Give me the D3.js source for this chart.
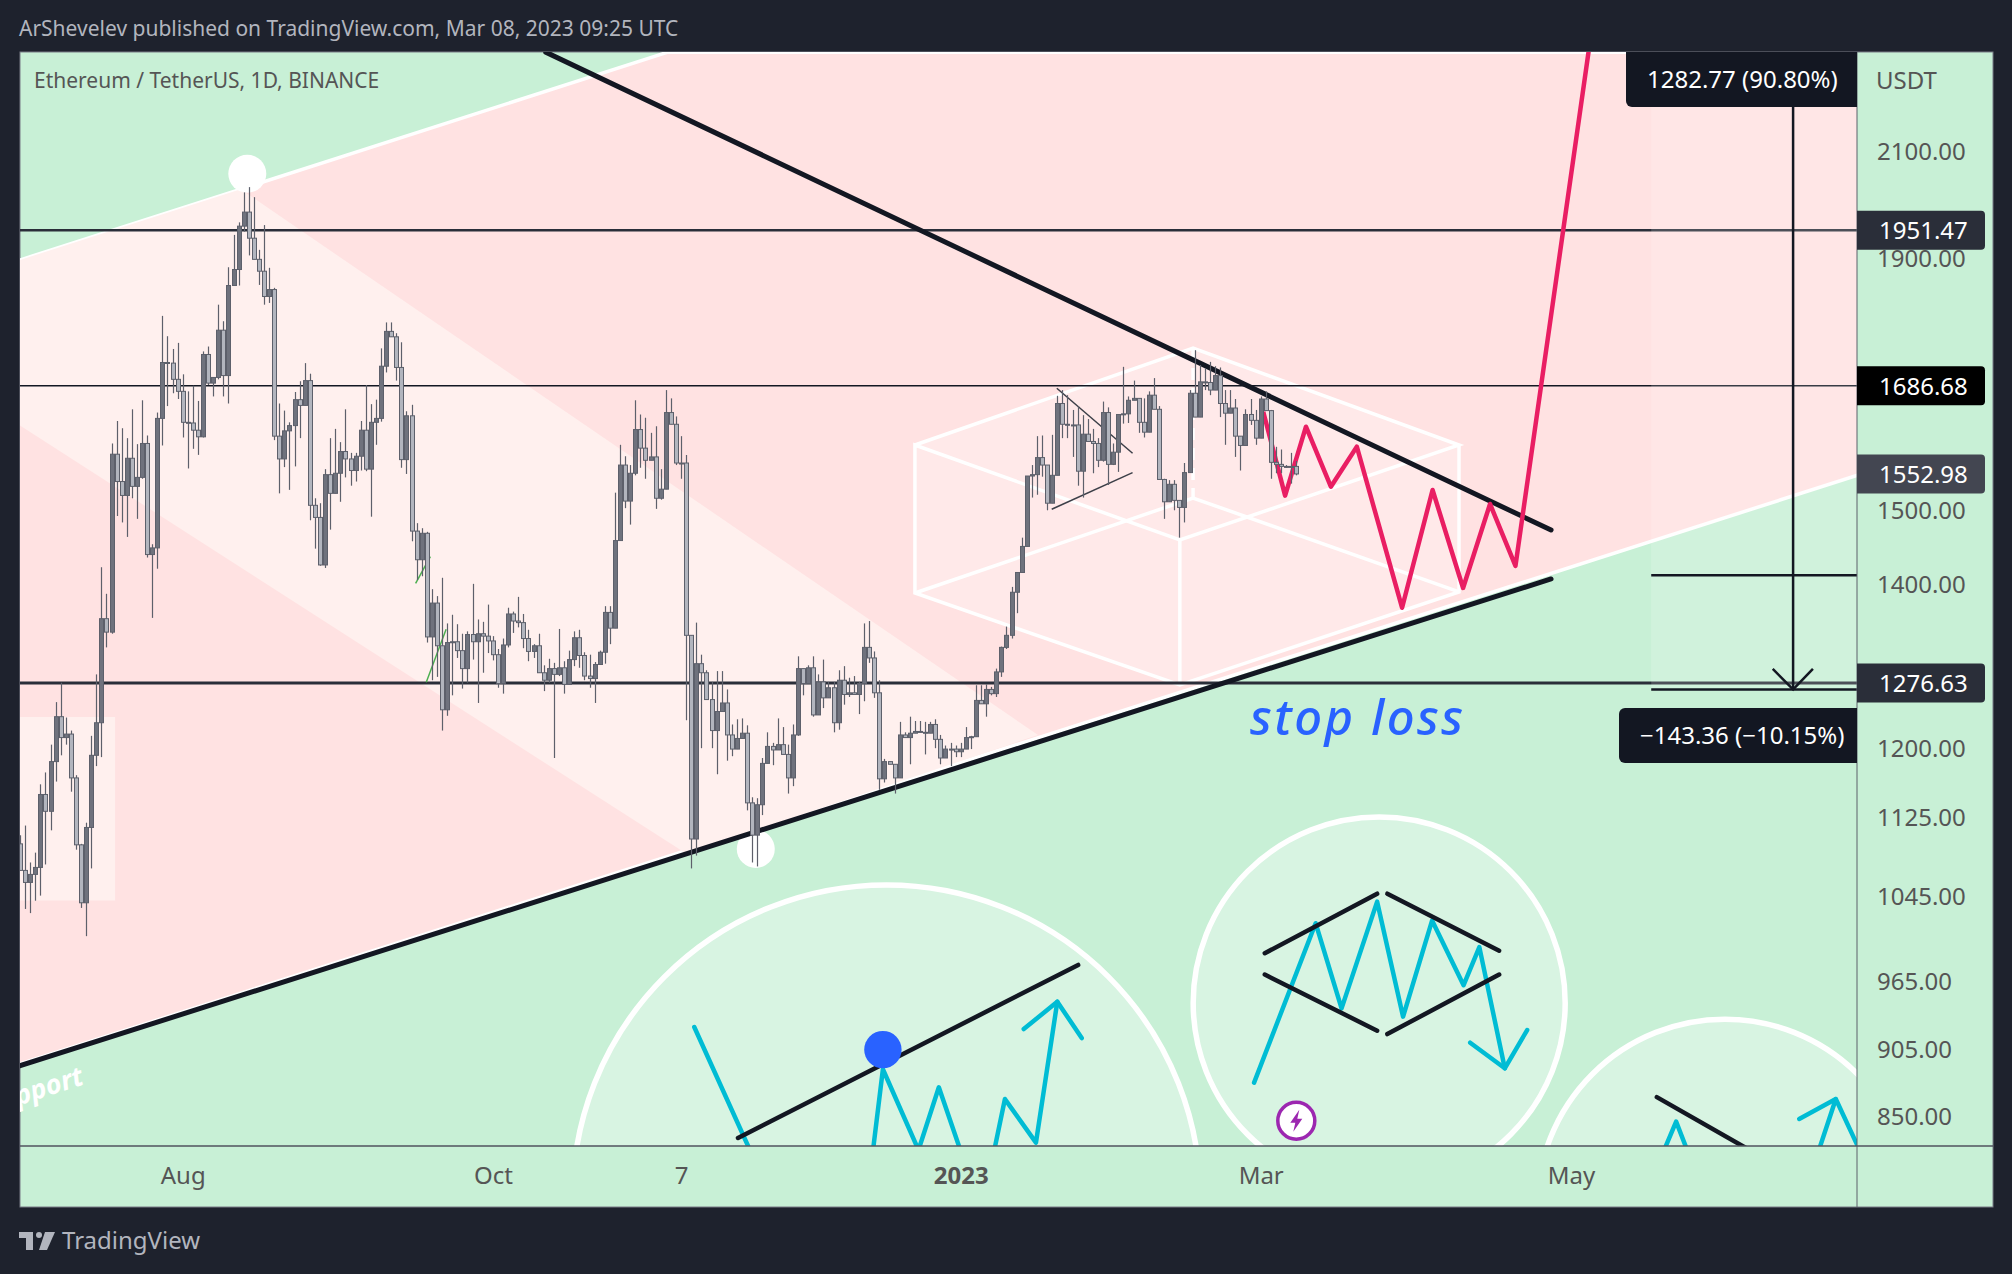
<!DOCTYPE html>
<meta charset="utf-8">
<head>
<title>ETHUSDT</title>
<script src="https://d3js.org/d3.v7.min.js"></script>
<style>
  html, body { margin: 0; padding: 0; background: #1e222d; }
  text { font-family: "Noto Sans", sans-serif; }
</style>
</head>
<body>
<div id="home"></div>
<script>
// daily candles, 30 Jun 2022 to 8 Mar 2023
const firstOpen = 1098;
const closes = [
  1071,1059,1067,1074,1150,1132,1186,1237,1213,1217,
  1168,1097,1039,1115,1193,1230,1356,1339,1582,1542,
  1522,1576,1535,1548,1598,1440,1449,1636,1724,1723,
  1697,1678,1630,1629,1618,1608,1737,1691,1700,1777,
  1703,1853,1881,1959,1985,1937,1899,1878,1834,1846,
  1609,1575,1617,1625,1665,1656,1695,1508,1491,1426,
  1552,1525,1554,1586,1575,1558,1579,1618,1560,1630,
  1636,1718,1775,1766,1716,1574,1640,1472,1433,1469,
  1333,1376,1322,1245,1326,1327,1316,1294,1336,1327,
  1337,1334,1328,1311,1276,1323,1362,1353,1351,1331,
  1315,1322,1289,1280,1294,1287,1295,1275,1305,1332,
  1310,1285,1282,1299,1314,1364,1344,1459,1566,1514,
  1554,1619,1591,1573,1578,1518,1531,1645,1627,1569,
  1569,1335,1103,1300,1289,1257,1221,1243,1253,1216,
  1200,1212,1218,1141,1107,1139,1184,1203,1199,1205,
  1194,1168,1216,1294,1276,1295,1239,1278,1259,1271,
  1230,1280,1263,1265,1263,1276,1320,1307,1265,1167,
  1186,1183,1168,1216,1213,1218,1220,1219,1218,1228,
  1211,1190,1200,1200,1197,1200,1213,1214,1256,1252,
  1269,1264,1290,1320,1335,1390,1416,1451,1550,1552,
  1577,1566,1511,1551,1659,1627,1626,1626,1557,1612,
  1601,1598,1573,1645,1567,1585,1642,1643,1664,1667,
  1630,1615,1672,1650,1545,1513,1538,1515,1505,1555,
  1675,1638,1693,1692,1680,1703,1659,1644,1652,1609,
  1595,1642,1633,1606,1666,1648,1570,1567,1564,1564,
  1564,1553
];
const highs = [
  1107,1117,1079,1089,1161,1174,1205,1254,1277,1236,
  1221,1171,1098,1120,1215,1287,1423,1388,1598,1632,
  1621,1606,1650,1597,1664,1610,1454,1645,1801,1767,
  1746,1756,1705,1678,1687,1663,1742,1750,1700,1820,
  1792,1885,1943,1966,2022,2032,2013,1916,1961,1884,
  1849,1659,1648,1630,1677,1694,1723,1706,1518,1511,
  1560,1606,1620,1600,1650,1584,1584,1632,1688,1658,
  1665,1747,1790,1790,1772,1757,1647,1657,1483,1476,
  1471,1394,1385,1409,1350,1361,1349,1337,1340,1401,
  1355,1352,1374,1334,1318,1331,1370,1365,1384,1362,
  1342,1324,1337,1298,1306,1301,1343,1303,1316,1340,
  1342,1314,1311,1302,1316,1372,1372,1526,1596,1579,
  1566,1664,1642,1637,1614,1624,1560,1680,1667,1639,
  1609,1581,1335,1351,1311,1292,1278,1291,1291,1269,
  1228,1234,1235,1227,1147,1146,1190,1219,1207,1235,
  1225,1205,1228,1309,1294,1298,1309,1287,1305,1278,
  1278,1292,1297,1283,1285,1278,1350,1353,1315,1280,
  1189,1186,1183,1231,1219,1237,1232,1232,1231,1231,
  1234,1216,1204,1207,1204,1207,1225,1215,1274,1274,
  1275,1272,1294,1321,1346,1397,1416,1463,1550,1566,
  1609,1610,1566,1611,1671,1680,1672,1649,1655,1641,
  1635,1620,1606,1662,1653,1598,1642,1717,1670,1695,
  1667,1667,1678,1699,1655,1546,1544,1544,1515,1569,
  1680,1744,1720,1715,1725,1718,1716,1680,1680,1666,
  1609,1650,1666,1649,1670,1678,1649,1593,1589,1566,
  1584,1572
];
const lows = [
  1071,1033,1029,1041,1046,1077,1112,1164,1193,1205,
  1153,1092,1034,1007,1073,1181,1191,1320,1337,1493,
  1484,1464,1518,1489,1546,1436,1357,1421,1595,1655,
  1675,1666,1607,1561,1590,1581,1607,1688,1670,1697,
  1670,1659,1853,1853,1949,1906,1899,1854,1820,1823,
  1603,1525,1563,1530,1564,1606,1656,1487,1448,1425,
  1422,1474,1525,1513,1548,1536,1542,1558,1557,1492,
  1596,1631,1708,1766,1695,1562,1553,1458,1406,1411,
  1326,1280,1284,1221,1238,1262,1307,1270,1277,1305,
  1253,1289,1313,1304,1271,1264,1320,1338,1345,1319,
  1303,1307,1289,1267,1277,1190,1285,1264,1275,1297,
  1295,1280,1271,1253,1299,1300,1324,1344,1459,1504,
  1481,1551,1562,1546,1573,1503,1516,1531,1627,1566,
  1546,1233,1073,1086,1201,1257,1201,1172,1243,1187,
  1192,1200,1212,1133,1079,1075,1128,1184,1182,1199,
  1194,1151,1159,1215,1262,1276,1237,1239,1247,1259,
  1219,1222,1251,1260,1263,1240,1255,1301,1259,1155,
  1163,1183,1151,1168,1213,1183,1218,1219,1194,1218,
  1201,1183,1190,1181,1191,1191,1200,1200,1214,1252,
  1237,1262,1260,1284,1318,1331,1363,1416,1451,1519,
  1523,1549,1501,1511,1551,1606,1606,1578,1536,1519,
  1601,1554,1563,1571,1537,1566,1556,1628,1629,1664,
  1614,1607,1615,1650,1545,1489,1513,1501,1463,1484,
  1555,1638,1638,1680,1672,1680,1638,1596,1644,1578,
  1558,1595,1626,1596,1606,1648,1546,1554,1554,1562,
  1539,1551
];
const priceTicks = [2100,1900,1500,1400,1200,1125,1045,965,905,850];
const timeTickDates = [Date.UTC(2022,7,1),Date.UTC(2022,9,1),Date.UTC(2022,10,7),Date.UTC(2023,0,1),Date.UTC(2023,2,1),Date.UTC(2023,4,1)];
const timeTickLabels = ["Aug","Oct","7","2023","Mar","May"];
const levels = [1951.47,1686.68,1276.63];
const lastPrice = 1552.98;

// drawings, as [bar number, price]
const pinkZone = [[-1,1895],[127.4,2306],[363,2306],[363,1555],[-1,892]];
const lightBand = [[-1,1895],[43.4,2028],[200.2,1216],[131,1088],[-1,1630]];
const lightBox = [[-1,1236.7],[18.7,1236.7],[18.7,1041.3],[-1,1041.3]];
const boxOutline = [[176,1595.7],[230.7,1747.6],[283,1595.7],[283,1390.4],[228.1,1274.3],[176,1389]];
const boxLines = [
  [[176,1595.7],[230.7,1747.6],[283,1595.7],[228.1,1459.8],[176,1595.7],[176,1389],[228.1,1274.3],[283,1390.4],[283,1595.7]],
  [[228.1,1459.8],[228.1,1274.3]],
  [[176,1389],[230.7,1518.4],[283,1390.4]]
];
const boxDashed = [[230.7,1747.6],[230.7,1518.4]];
const thinGrey = [[[203.9,1682.8],[218.8,1583.4]],[[202.9,1502.4],[218.8,1554.9]]];
const thinGreen = [[[77.8,1401.7],[80.7,1437.2]],[[79.9,1277.6],[83.8,1342.6]]];
const blackLines = [
  [[103.4,2306],[301.1,1473.5]],
  [[-0.1,891.7],[301.1,1407.4]],
  [[141.2,833.5],[208.1,980.2]],
  [[244.8,991],[266.9,1047.9]],
  [[268.9,1047.9],[290.9,993.4]],
  [[244.8,971.4],[266.9,921.6]],
  [[268.9,918.7],[290.9,971.4]],
  [[321.9,866],[342.2,819.5]]
];
const redPath = [[244.5,1646.3],[248.8,1521.7],[252.9,1623.3],[257.8,1534.6],[262.9,1593.2],[271.8,1370],[277.8,1529.8],[283.8,1395.6],[289.1,1509.9],[294.1,1424.7],[308.5,2308.5]];
const cyanLines = [
  [[132.6,924.8],[147.1,793.8],[166.8,793.8],[169.7,888.9],[176.7,824.1],[180.7,874],[185.6,816.4],[191.2,816.4],[193.7,864.4],[199.8,829.8],[204,947]],
  [[197.4,923],[204,947],[208.8,915.3]],
  [[242.7,877.8],[254.8,1019.3],[259.9,941.1],[266.9,1040.1],[272,933.8],[277.7,1021.8],[283.9,961.8],[287,996.7],[292,889.7]],
  [[285.2,911.3],[292,889.7],[296.4,922.2]],
  [[322.1,812.6],[325.7,846.3],[329,812.6]],
  [[352.8,812.6],[357.1,864.4],[363.8,807.3]],
  [[349.9,848.4],[357.1,864.4]]
];
const bigCircles = [[170.4,787.2,314],[267.3,945.9,186],[335.3,781.3,187.7]];
const whiteDots = [[44.7,2057.7],[144.7,1092.8]];
const blueDot = [169.7,905.4];
const eventIcon = [251,847];

// measure tool
const measureLeft = 320.8, measureRight = 363, measureMid = 348.7;
const measureEntry = 1412.32, measureStop = 1268.96, measureTarget = 2695.09;
const arrowLegs = [[344.7,1293.6],[348.7,1268.96],[352.6,1293.6]];

const W = 2012, H = 1274;
const plotLeft = 20, plotRight = 1857, plotTop = 52, plotBottom = 1146, axisRight = 1993, axisBottom = 1207;

let svg = d3.select("#home").append("svg").attr("width", W).attr("height", H).style("display", "block");

const DAY = 86400000;
const t0 = Date.UTC(2022,5,30);
let x = d3.scaleUtc().domain([t0, t0 + 251 * DAY]).range([20, 1296.3]);
let y = d3.scaleLog().domain([2100, 850]).range([152, 1117]);
const bx = (i) => x(t0 + i * DAY);
let line = d3.line().x((d) => bx(d[0])).y((d) => y(d[1]));

svg.append("rect").attr("x", plotLeft).attr("y", plotTop).attr("width", axisRight - plotLeft).attr("height", axisBottom - plotTop)
   .attr("fill", "#c8f0d6").attr("stroke", "#787b86").attr("stroke-width", 1);

svg.append("clipPath").attr("id", "plot").append("rect")
   .attr("x", plotLeft).attr("y", plotTop).attr("width", plotRight - plotLeft).attr("height", plotBottom - plotTop);

let plot = svg.append("g").attr("clip-path", "url(#plot)");

plot.append("path").attr("d", line(pinkZone) + "Z").attr("fill", "#ffe2e2").attr("stroke", "#fff").attr("stroke-width", 3.5);
plot.append("path").attr("d", line(lightBand) + "Z").attr("fill", "#fff0ee");
plot.append("path").attr("d", line(lightBox) + "Z").attr("fill", "#fff0ee");
plot.append("path").attr("d", line(boxOutline) + "Z").attr("fill", "rgba(255,255,255,0.25)");

plot.selectAll(".boxline").data(boxLines).enter().append("path")
    .attr("d", (d) => line(d)).attr("fill", "none").attr("stroke", "#fff").attr("stroke-width", 3.5);
plot.append("path").attr("d", line(boxDashed)).attr("fill", "none").attr("stroke", "#fff").attr("stroke-width", 3.5).attr("stroke-dasharray", "12 8");

plot.selectAll(".bigcircle").data(bigCircles).enter().append("circle")
    .attr("cx", (d) => bx(d[0])).attr("cy", (d) => y(d[1])).attr("r", (d) => d[2])
    .attr("fill", "rgba(255,255,255,0.3)").attr("stroke", "#fff").attr("stroke-width", 5.5);

plot.selectAll(".dot").data(whiteDots).enter().append("circle")
    .attr("cx", (d) => bx(d[0])).attr("cy", (d) => y(d[1])).attr("r", 19).attr("fill", "#fff");

plot.selectAll(".level").data(levels).enter().append("line")
    .attr("x1", plotLeft).attr("x2", plotRight).attr("y1", (d) => y(d)).attr("y2", (d) => y(d))
    .attr("stroke", (d) => d == 1686.68 ? "#131722" : "#2a2e39")
    .attr("stroke-width", (d) => d == 1686.68 ? 1.5 : d == 1951.47 ? 2.5 : 3);

plot.selectAll(".thing").data(thinGrey).enter().append("path").attr("d", (d) => line(d))
    .attr("stroke", "#3c3f48").attr("stroke-width", 1.5).attr("fill", "none");
plot.selectAll(".thgreen").data(thinGreen).enter().append("path").attr("d", (d) => line(d))
    .attr("stroke", "#4caf50").attr("stroke-width", 1.5).attr("fill", "none");

plot.selectAll(".cyan").data(cyanLines).enter().append("path").attr("d", (d) => line(d))
    .attr("fill", "none").attr("stroke", "#00bcd4").attr("stroke-width", 4.5).attr("stroke-linejoin", "round").attr("stroke-linecap", "round");
plot.selectAll(".black").data(blackLines).enter().append("path").attr("d", (d) => line(d))
    .attr("fill", "none").attr("stroke", "#131722").attr("stroke-width", (d, i) => i < 2 ? 5 : 4.5).attr("stroke-linecap", "round");
plot.append("path").attr("d", line(redPath)).attr("fill", "none").attr("stroke", "#e91e63").attr("stroke-width", 4.5).attr("stroke-linejoin", "round");

plot.append("circle").attr("cx", bx(blueDot[0])).attr("cy", y(blueDot[1])).attr("r", 18.7).attr("fill", "#2962ff");

// lightning event marker
let icon = plot.append("g").attr("transform", "translate(" + bx(eventIcon[0]) + "," + y(eventIcon[1]) + ")");
icon.append("circle").attr("r", 18.5).attr("fill", "#fff").attr("stroke", "#9c27b0").attr("stroke-width", 3.5);
icon.append("path").attr("d", "M3 -11 L-6 2 L-1 2 L-3 11 L6 -2 L1 -2 Z").attr("fill", "#9c27b0");

// stop loss and the cut off label
plot.append("text").attr("x", 1250).attr("y", 735).attr("font-size", 49).attr("font-style", "italic").attr("font-weight", 500)
    .attr("letter-spacing", 2.5).attr("fill", "#2962ff").text("stop loss");
plot.append("text").attr("transform", "translate(85,1084) rotate(-18)").attr("text-anchor", "end").attr("font-size", 27)
    .attr("font-style", "italic").attr("font-weight", 700).attr("fill", "#fff").text("Support");

// measure tool
plot.append("rect").attr("x", bx(measureLeft)).attr("width", plotRight - bx(measureLeft))
    .attr("y", plotTop).attr("height", y(measureStop) - plotTop).attr("fill", "rgba(255,255,255,0.16)");
plot.selectAll(".mline").data([measureEntry, measureStop]).enter().append("line")
    .attr("x1", bx(measureLeft)).attr("x2", bx(measureRight)).attr("y1", (d) => y(d)).attr("y2", (d) => y(d))
    .attr("stroke", "#131722").attr("stroke-width", 2.5);
plot.append("line").attr("x1", bx(measureMid)).attr("x2", bx(measureMid)).attr("y1", y(measureTarget)).attr("y2", y(measureStop))
    .attr("stroke", "#131722").attr("stroke-width", 2.5);
plot.append("path").attr("d", line(arrowLegs)).attr("fill", "none").attr("stroke", "#131722").attr("stroke-width", 2.5);

// candles
let candles = plot.selectAll(".candle").data(closes).enter().append("g");
const openOf = (i) => i == 0 ? firstOpen : closes[i - 1];
const cx = (i) => Math.round(bx(i)) + 0.5;
candles.append("line")
    .attr("x1", (d, i) => cx(i)).attr("x2", (d, i) => cx(i))
    .attr("y1", (d, i) => y(highs[i])).attr("y2", (d, i) => y(lows[i]))
    .attr("stroke", "#5d606b").attr("stroke-width", 1.2);
candles.append("rect")
    .attr("x", (d, i) => cx(i) - 2).attr("width", 4)
    .attr("y", (d, i) => y(Math.max(d, openOf(i))))
    .attr("height", (d, i) => Math.max(1, Math.abs(y(d) - y(openOf(i)))))
    .attr("fill", (d, i) => d >= openOf(i) ? "#6f727d" : "#b2b5be")
    .attr("stroke", "#5d606b").attr("stroke-width", 1);

// axes
svg.append("line").attr("x1", plotRight).attr("x2", plotRight).attr("y1", plotTop).attr("y2", axisBottom).attr("stroke", "#5d606b");
svg.append("line").attr("x1", plotLeft).attr("x2", axisRight).attr("y1", plotBottom).attr("y2", plotBottom).attr("stroke", "#50535e").attr("stroke-width", 1.5);

let yAxis = svg.append("g").attr("transform", "translate(" + plotRight + ",0)")
    .call(d3.axisRight(y).tickValues(priceTicks).tickFormat((d) => d.toFixed(2)).tickSize(0).tickPadding(20));
yAxis.select(".domain").remove();
yAxis.selectAll("text").attr("font-size", 24).attr("font-family", "Noto Sans").attr("fill", "#555555");

let xAxis = svg.append("g").attr("transform", "translate(0," + plotBottom + ")")
    .call(d3.axisBottom(x).tickValues(timeTickDates).tickFormat((d, i) => timeTickLabels[i]).tickSize(0).tickPadding(21));
xAxis.select(".domain").remove();
xAxis.selectAll("text").attr("font-size", 24).attr("font-family", "Noto Sans").attr("fill", "#555555")
     .attr("font-weight", (d, i) => timeTickLabels[i] == "2023" ? 700 : 400);

svg.append("text").attr("x", 1876).attr("y", 89).attr("font-size", 24).attr("fill", "#555555").text("USDT");

// price tags
const tags = [[1951.47, "#2a2e39"], [1686.68, "#000000"], [lastPrice, "#434651"], [1276.63, "#2a2e39"]];
let tag = svg.selectAll(".tag").data(tags).enter().append("g").attr("transform", (d) => "translate(" + plotRight + "," + y(d[0]) + ")");
tag.append("path").attr("d", "M0 -19.5H124a4 4 0 0 1 4 4V15.5a4 4 0 0 1 -4 4H0Z").attr("fill", (d) => d[1]);
tag.append("text").attr("x", 22).attr("y", 9).attr("font-size", 24).attr("fill", "#fff").text((d) => d[0].toFixed(2));

// measure labels
svg.append("path").attr("d", "M1857 52V107H1632a6 6 0 0 1 -6 -6V52Z").attr("fill", "#131722");
svg.append("text").attr("x", 1647).attr("y", 88).attr("font-size", 24).attr("fill", "#fff").text("1282.77 (90.80%)");
svg.append("path").attr("d", "M1857 708V763H1625a6 6 0 0 1 -6 -6V714a6 6 0 0 1 6 -6Z").attr("fill", "#131722");
svg.append("text").attr("x", 1640).attr("y", 744).attr("font-size", 24).attr("fill", "#fff").text("\u2212143.36 (\u221210.15%)");

// header and footer
svg.append("text").attr("x", 19).attr("y", 36).attr("font-size", 21).attr("fill", "#b2b5be")
   .text("ArShevelev published on TradingView.com, Mar 08, 2023 09:25 UTC");
svg.append("text").attr("x", 34).attr("y", 88).attr("font-size", 21).attr("fill", "#555555")
   .text("Ethereum / TetherUS, 1D, BINANCE");

let logo = svg.append("g").attr("transform", "translate(19,1232)").attr("fill", "#b2b5be");
logo.append("path").attr("d", "M14 0H0v6h7v12h7z");
logo.append("circle").attr("cx", 20).attr("cy", 3).attr("r", 3);
logo.append("path").attr("d", "M28 18h-8L26 0h10z");
svg.append("text").attr("x", 62).attr("y", 1249).attr("font-size", 24).attr("fill", "#b2b5be").text("TradingView");
</script>
</body>
